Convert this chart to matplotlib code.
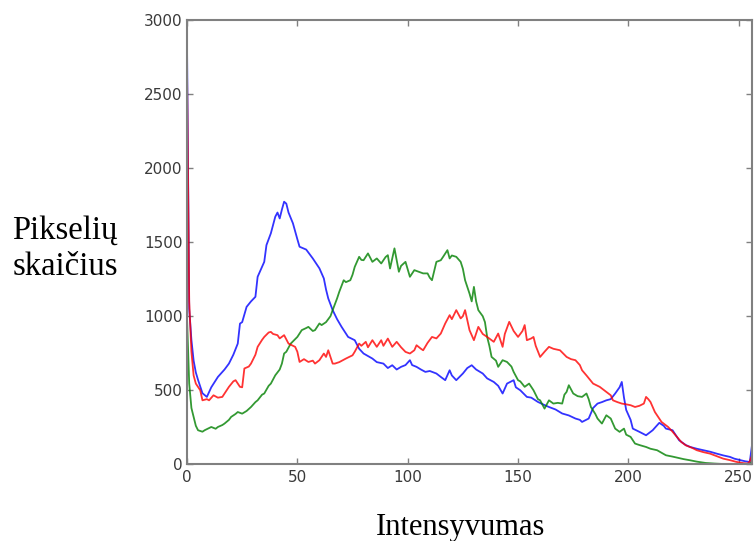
"""RGB intensity histogram (pixel count per intensity level), classic look."""

import matplotlib

matplotlib.use("Agg")

import matplotlib.pyplot as plt

# values (intensity, pixel count)
blue_x = [0, 1, 2, 3, 4, 5, 7, 9, 11, 14, 17, 19, 21, 23, 24, 25, 27, 29, 31, 32,
          35, 36, 38, 40, 41, 42, 43, 44, 45, 46, 48, 50, 51, 54, 57, 60, 62, 63, 64, 66,
          68, 70, 73, 76, 78, 80, 84, 86, 89, 91, 93, 95, 97, 99, 101, 102, 104, 106, 108, 110,
          113, 115, 117, 119, 120, 122, 125, 127, 129, 131, 134, 136, 139, 141, 143, 145, 148, 149, 151, 154,
          156, 159, 162, 164, 167, 170, 173, 176, 178, 179, 182, 184, 186, 188, 190, 192, 194, 196, 197, 198,
          199, 201, 202, 205, 208, 211, 214, 216, 217, 220, 223, 226, 228, 231, 234, 237, 240, 243, 246, 248,
          251, 253, 255, 256]
blue_y = [2850, 1050, 840, 700, 620, 570, 480, 455, 520, 590, 640, 680, 740, 815, 950, 960, 1063, 1100, 1131, 1266,
          1367, 1480, 1560, 1672, 1700, 1660, 1720, 1773, 1760, 1700, 1627, 1520, 1469, 1450, 1390, 1323, 1255, 1180, 1120, 1041,
          980, 929, 860, 838, 780, 748, 714, 690, 680, 650, 669, 640, 658, 670, 703, 670, 658, 640, 624, 630,
          613, 590, 568, 635, 600, 568, 613, 650, 669, 640, 613, 580, 556, 530, 478, 545, 568, 520, 500, 455,
          450, 421, 400, 387, 370, 343, 330, 309, 300, 286, 309, 380, 410, 420, 432, 440, 478, 520, 556, 450,
          367, 300, 241, 219, 196, 230, 280, 260, 241, 230, 162, 130, 117, 105, 95, 85, 72, 60, 50, 38,
          27, 20, 16, 130]

green_x = [0, 1, 2, 3, 4, 5, 7, 8, 10, 11, 13, 14, 16, 17, 19, 20, 22, 23, 25, 27,
           29, 31, 32, 34, 35, 37, 38, 40, 42, 43, 44, 45, 47, 50, 52, 54, 55, 57, 58, 60,
           61, 63, 65, 66, 68, 69, 71, 72, 74, 75, 76, 78, 79, 80, 82, 84, 86, 88, 90, 91,
           92, 94, 96, 97, 99, 101, 103, 105, 107, 109, 110, 111, 113, 115, 116, 118, 119, 120, 122, 124,
           125, 126, 128, 129, 130, 131, 132, 134, 135, 136, 137, 138, 140, 141, 143, 145, 147, 148, 150, 151,
           153, 155, 157, 159, 160, 162, 164, 166, 168, 170, 171, 172, 173, 175, 177, 179, 181, 182, 183, 185,
           186, 188, 190, 191, 192, 194, 196, 198, 199, 201, 203, 205, 208, 210, 213, 215, 217, 220, 222, 225,
           228, 231, 235, 239, 243, 248, 253, 255, 256]
green_y = [990, 545, 380, 320, 260, 230, 220, 230, 245, 252, 240, 252, 265, 275, 300, 320, 340, 353, 342, 360,
           387, 420, 432, 470, 478, 530, 545, 601, 640, 680, 748, 760, 815, 860, 906, 920, 928, 900, 906, 951,
           940, 960, 1000, 1041, 1120, 1165, 1243, 1230, 1243, 1280, 1333, 1401, 1380, 1378, 1424, 1367, 1390, 1356, 1400, 1412,
           1322, 1458, 1300, 1340, 1367, 1266, 1311, 1300, 1289, 1289, 1260, 1243, 1367, 1378, 1400, 1446, 1390, 1410, 1401, 1367,
           1320, 1243, 1153, 1100, 1198, 1100, 1041, 1000, 960, 860, 800, 725, 700, 658, 703, 691, 660, 624, 568, 560,
           523, 545, 500, 440, 432, 376, 432, 410, 415, 410, 470, 489, 534, 478, 460, 455, 478, 440, 387, 340,
           309, 275, 331, 320, 309, 241, 219, 241, 200, 185, 140, 130, 117, 105, 95, 78, 61, 52, 45, 35,
           27, 18, 9, 5, 2, 1, 0, 0, 20]

red_x = [0, 1, 2, 3, 4, 6, 7, 9, 10, 12, 14, 16, 19, 21, 22, 24, 25, 26, 28, 29,
         31, 32, 34, 35, 37, 38, 39, 41, 42, 44, 46, 48, 49, 50, 51, 53, 55, 57, 58, 60,
         62, 63, 64, 66, 67, 69, 72, 75, 76, 78, 79, 81, 82, 84, 86, 88, 89, 91, 93, 95,
         97, 99, 101, 103, 104, 106, 107, 109, 111, 113, 115, 117, 119, 120, 122, 124, 125, 126, 128, 130,
         132, 134, 136, 139, 141, 143, 144, 146, 148, 150, 152, 153, 154, 156, 157, 158, 160, 162, 164, 166,
         169, 171, 172, 174, 176, 178, 179, 181, 184, 187, 190, 192, 193, 195, 197, 199, 201, 203, 205, 207,
         208, 209, 210, 212, 215, 218, 220, 222, 224, 226, 229, 231, 234, 237, 240, 243, 246, 249, 252, 254,
         255, 256]
red_y = [2680, 1100, 760, 600, 545, 500, 432, 440, 432, 466, 450, 455, 523, 560, 568, 523, 520, 647, 660, 680,
         740, 793, 840, 860, 890, 894, 880, 872, 850, 872, 815, 800, 793, 760, 691, 710, 691, 700, 680, 703,
         748, 725, 770, 680, 680, 690, 714, 736, 760, 815, 800, 827, 790, 838, 793, 838, 800, 849, 793, 827,
         790, 759, 748, 770, 804, 780, 770, 820, 860, 850, 883, 951, 1007, 980, 1041, 985, 1000, 1041, 906, 838,
         928, 880, 860, 827, 883, 793, 880, 962, 900, 860, 900, 940, 838, 850, 860, 800, 725, 760, 793, 780,
         770, 740, 725, 710, 703, 670, 635, 600, 545, 523, 489, 466, 432, 420, 410, 405, 399, 387, 395, 410,
         455, 440, 421, 353, 286, 252, 220, 185, 150, 128, 110, 95, 82, 72, 55, 38, 28, 16, 8, 5,
         20, 60]

x_ticks = [0, 50, 100, 150, 200, 250]
y_ticks = [0, 500, 1000, 1500, 2000, 2500, 3000]

fig = plt.figure(figsize=(7.54, 5.41), dpi=100)
ax = fig.add_axes([187 / 754, 1 - 464.3 / 541, 565 / 754, 444.3 / 541])

# same order as the usual b, g, r loop so red ends up on top
ax.plot(blue_x, blue_y, color="#0000ff", linewidth=1.3, alpha=0.8)
ax.plot(green_x, green_y, color="#008000", linewidth=1.3, alpha=0.8)
ax.plot(red_x, red_y, color="#ff0000", linewidth=1.3, alpha=0.8)

ax.set_xlim(0, 256)
ax.set_ylim(0, 3000)
ax.set_xticks(x_ticks)
ax.set_yticks(y_ticks)
ax.tick_params(direction="in", length=4, width=1, color="#808080",
               top=True, right=True, labelsize=11, labelcolor="#3a3a3a")
ax.tick_params(axis="y", pad=3)
ax.tick_params(axis="x", pad=4)
for spine in ax.spines.values():
    spine.set_color("#808080")
    spine.set_linewidth(1.5)

serif = "Liberation Serif"
fig.text(12 / 754, 1 - 239 / 541, "Pikselių", family=serif, fontsize=23.5,
         ha="left", va="baseline")
fig.text(13 / 754, 1 - 275 / 541, "skaičius", family=serif, fontsize=23.5,
         ha="left", va="baseline")
fig.text(461 / 754, 1 - 535 / 541, "Intensyvumas", family=serif, fontsize=22,
         ha="center", va="baseline")

fig.savefig("out.png", dpi=100)
plt.close(fig)
